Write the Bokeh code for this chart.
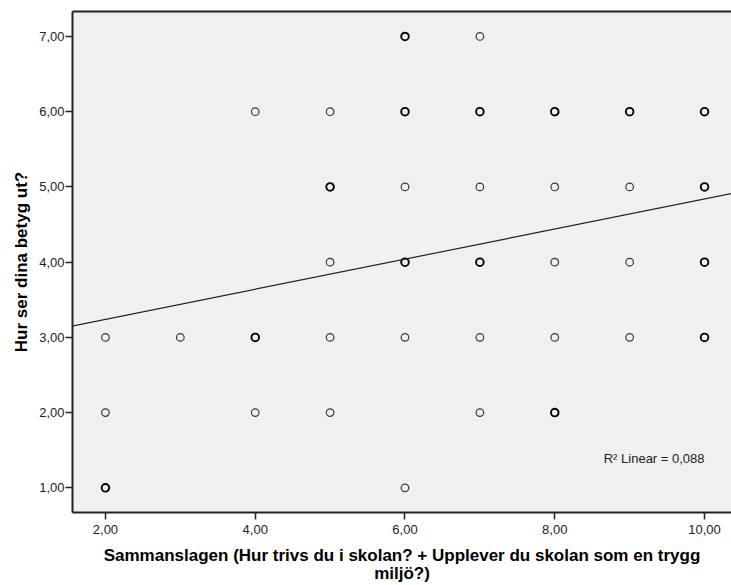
from bokeh.plotting import figure
from bokeh.models import FixedTicker, Label, Slope, LinearAxis, Range1d
from bokeh.embed import file_html
from bokeh.resources import INLINE

# Data (x: combined score, y: grades); multi = overlapping points (bold)
x_single = [7, 4, 5, 6, 7, 8, 9, 5, 8, 9, 2, 3, 5, 6, 7, 8, 9, 2, 4, 5, 7, 6]
y_single = [7, 6, 6, 5, 5, 5, 5, 4, 4, 4, 3, 3, 3, 3, 3, 3, 3, 2, 2, 2, 2, 1]
x_multi = [6, 6, 7, 8, 9, 10, 5, 10, 6, 7, 10, 4, 10, 8, 2]
y_multi = [7, 6, 6, 6, 6, 6, 5, 5, 4, 4, 4, 3, 3, 2, 1]

fit_intercept = 2.84
fit_slope = 0.20
r2_text = "R\u00b2 Linear = 0,088"

x_ticks = [2, 4, 6, 8, 10]
x_tick_labels = ["2,00", "4,00", "6,00", "8,00", "10,00"]
y_ticks = [1, 2, 3, 4, 5, 6, 7]
y_tick_labels = ["1,00", "2,00", "3,00", "4,00", "5,00", "6,00", "7,00"]

x_title = "Sammanslagen (Hur trivs du i skolan? + Upplever du skolan som en trygg\nmiljö?)"
y_title = "Hur ser dina betyg ut?"

FONT = "Liberation Sans"
DARK = "#222222"

p = figure(width=731, height=585, output_backend="svg", toolbar_location=None,
           x_range=Range1d(1.56, 10.36), y_range=Range1d(0.672, 7.332),
           min_border_left=72, min_border_right=0, min_border_top=11, min_border_bottom=72)
p.background_fill_color = "#F0F0F0"
p.border_fill_color = "white"
p.outline_line_color = None
p.grid.visible = False

for ax in (p.xaxis[0], p.yaxis[0]):
    ax.axis_line_width = 2
    ax.axis_line_color = DARK
    ax.major_tick_line_width = 1.5
    ax.major_tick_line_color = DARK
    ax.major_tick_in = 0
    ax.major_tick_out = 7
    ax.minor_tick_line_color = None
    ax.major_label_text_font = FONT
    ax.major_label_text_font_size = "13px"
    ax.major_label_text_color = DARK
    ax.axis_label_text_font = FONT
    ax.axis_label_text_font_size = "17px"
    ax.axis_label_text_font_style = "bold"
    ax.axis_label_text_color = "black"

p.xaxis.ticker = FixedTicker(ticks=x_ticks)
p.xaxis.major_label_overrides = dict(zip(x_ticks, x_tick_labels))
p.xaxis.major_label_standoff = 5
p.xaxis.axis_label = x_title
p.xaxis.axis_label_text_line_height = 0.97
p.xaxis.axis_label_standoff = 9
p.yaxis.ticker = FixedTicker(ticks=y_ticks)
p.yaxis.major_label_standoff = 1
p.yaxis.major_label_overrides = dict(zip(y_ticks, y_tick_labels))
p.yaxis.axis_label = y_title
p.yaxis.axis_label_standoff = 5

top = LinearAxis(ticker=FixedTicker(ticks=[]), axis_line_width=2, axis_line_color=DARK,
                 major_tick_line_color=None, minor_tick_line_color=None,
                 major_label_text_font_size="0px")
p.add_layout(top, "above")

p.add_layout(Slope(gradient=fit_slope, y_intercept=fit_intercept, line_color=DARK, line_width=1.2))

p.scatter(x_single, y_single, size=7.6, fill_color=None, line_color="#3a3a3a", line_width=1.2)
p.scatter(x_multi, y_multi, size=7.6, fill_color=None, line_color="black", line_width=1.9)

p.add_layout(Label(x=10.0, y=1.385, text=r2_text, text_align="right", text_baseline="middle",
                   text_font=FONT, text_font_size="13px", text_color=DARK))

open("out.html", "w").write(file_html(p, INLINE))
